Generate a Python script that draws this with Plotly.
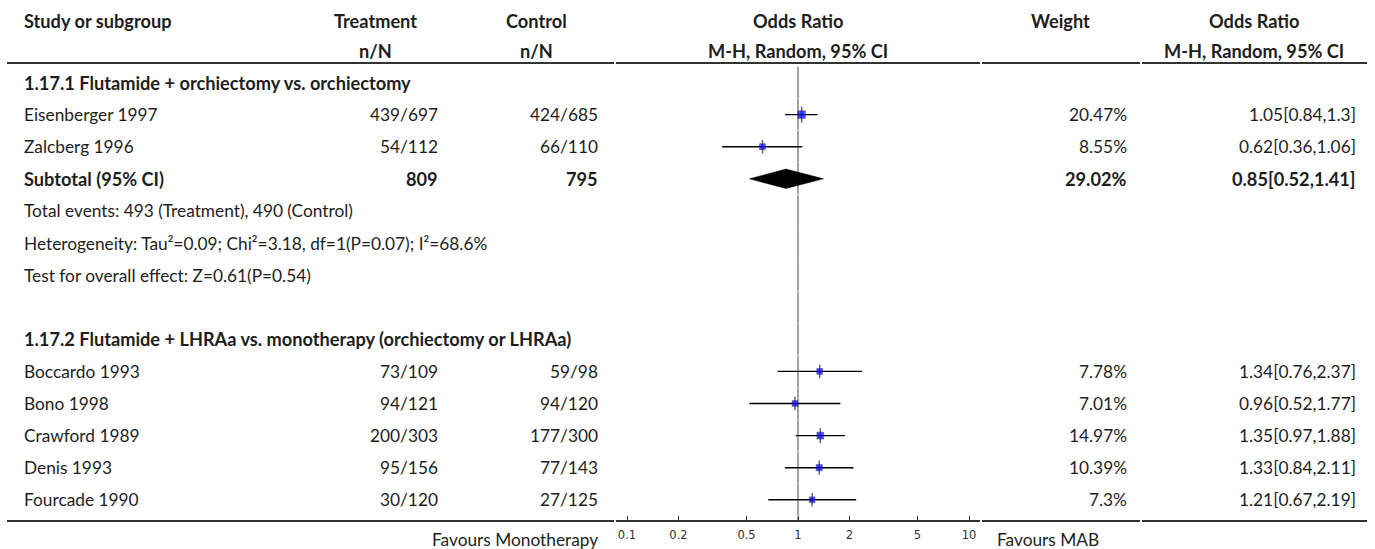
import plotly.graph_objects as go

# ---- data -------------------------------------------------------------
group1_title = "1.17.1 Flutamide + orchiectomy vs. orchiectomy"
group2_title = "1.17.2 Flutamide + LHRAa vs. monotherapy (orchiectomy or LHRAa)"

studies = ["Eisenberger 1997", "Zalcberg 1996", "Boccardo 1993", "Bono 1998",
           "Crawford 1989", "Denis 1993", "Fourcade 1990"]
study_group = [1, 1, 2, 2, 2, 2, 2]
treatment = ["439/697", "54/112", "73/109", "94/121", "200/303", "95/156", "30/120"]
control = ["424/685", "66/110", "59/98", "94/120", "177/300", "77/143", "27/125"]
weight = [20.47, 8.55, 7.78, 7.01, 14.97, 10.39, 7.3]
odds = [1.05, 0.62, 1.34, 0.96, 1.35, 1.33, 1.21]
ci_low = [0.84, 0.36, 0.76, 0.52, 0.97, 0.84, 0.67]
ci_high = [1.3, 1.06, 2.37, 1.77, 1.88, 2.11, 2.19]

subtotal_treatment = 809
subtotal_control = 795
subtotal_weight = 29.02
subtotal_or = 0.85
subtotal_low = 0.52
subtotal_high = 1.41
subtotal_notes = [
    "Total events: 493 (Treatment), 490 (Control)",
    "Heterogeneity: Tau\u00b2=0.09; Chi\u00b2=3.18, df=1(P=0.07); I\u00b2=68.6%",
    "Test for overall effect: Z=0.61(P=0.54)",
]

tick_values = [0.1, 0.2, 0.5, 1, 2, 5, 10]
tick_labels = ["0.1", "0.2", "0.5", "1", "2", "5", "10"]
favours_left = "Favours Monotherapy"
favours_right = "Favours MAB"

# ---- page geometry ----------------------------------------------------
W, H = 1375, 549
FONT = "Lato, Roboto, sans-serif"
FS = 17.3
FS_BOLD = 18.2
TXT = "#1e1e1e"
ROW0_PX = 82.5      # centre of first body row
ROW_PX = 32.1       # row pitch
AXIS_PX = 521.0     # baseline of the table / forest axis


def px_to_row(py):
    return (py - ROW0_PX) / ROW_PX


def xp(px):
    return px / W


def yp(py):
    return 1 - py / H


# ---- row bookkeeping ---------------------------------------------------
rows = {}
r = 0
rows["g1"] = r; r += 1
study_rows = []
for g in (1, 2):
    if g == 2:
        r += 1  # blank spacer
        rows["g2"] = r; r += 1
    for i, sg in enumerate(study_group):
        if sg == g:
            study_rows.append((i, r)); r += 1
    if g == 1:
        rows["sub"] = r; r += 1
        rows["notes"] = [r, r + 1, r + 2]; r += 3
study_row = dict(study_rows)
n_rows = r

fig = go.Figure()

# line of no effect, drawn cell by cell with hairline breaks between rows
gap = 0.3 / ROW_PX
vx, vy = [], []
for k in range(n_rows):
    vx += [1, 1, None]
    vy += [k - 0.5 + gap, k + 0.5 - gap, None]
vx += [1, 1]
vy += [n_rows - 0.5 + gap, px_to_row(AXIS_PX)]
fig.add_trace(go.Scatter(
    x=vx, y=vy, mode="lines", line=dict(color="#a3a3a3", width=2),
    hoverinfo="skip", showlegend=False))

# confidence intervals
cx, cy = [], []
for i in range(len(studies)):
    cx += [ci_low[i], ci_high[i], None]
    cy += [study_row[i], study_row[i], None]
fig.add_trace(go.Scatter(x=cx, y=cy, mode="lines",
                         line=dict(color="black", width=1.4),
                         hoverinfo="skip", showlegend=False))

sq_size = [4.8 + 0.13 * w for w in weight]
ys = [study_row[i] for i in range(len(studies))]

# vertical stroke through each point estimate
fig.add_trace(go.Scatter(
    x=odds, y=ys, mode="markers",
    marker=dict(symbol="line-ns", size=[s + 4 for s in sq_size],
                line=dict(color="#2a2a3a", width=1.5)),
    hoverinfo="skip", showlegend=False))

# weighted squares
fig.add_trace(go.Scatter(
    x=odds, y=ys, mode="markers",
    marker=dict(symbol="square", color="#0000ff", size=sq_size,
                line=dict(color="#00006a", width=0.6)),
    hoverinfo="skip", showlegend=False))

# pooled diamond
hh = 9.7 / ROW_PX
sr = rows["sub"]
fig.add_trace(go.Scatter(
    x=[subtotal_low, subtotal_or, subtotal_high, subtotal_or, subtotal_low],
    y=[sr, sr - hh, sr, sr + hh, sr], mode="lines", fill="toself",
    fillcolor="black", line=dict(color="black", width=0.5),
    hoverinfo="skip", showlegend=False))

# ---- text --------------------------------------------------------------
ann = []


def txt(x_px, y, s, anchor="left", bold=False, yref="y"):
    ann.append(dict(
        x=xp(x_px), xref="paper", y=y, yref=yref,
        text=f"<b>{s}</b>" if bold else s, showarrow=False,
        xanchor=anchor, yanchor="middle",
        font=dict(family=FONT, size=FS_BOLD if bold else FS, color=TXT)))


X_LEFT = 22
X_TREAT_R, X_TREAT_C = 440, 375
X_CTRL_R, X_CTRL_C = 600, 536
X_FOREST_C = 798
X_WEIGHT_R, X_WEIGHT_C = 1129, 1060
X_OR_R, X_OR_C = 1358, 1254

h1, h2 = yp(21), yp(51.5)
txt(X_LEFT, h1, "Study or subgroup", bold=True, yref="paper")
txt(X_TREAT_C, h1, "Treatment", "center", True, yref="paper")
txt(X_TREAT_C, h2, "n/N", "center", True, yref="paper")
txt(X_CTRL_C, h1, "Control", "center", True, yref="paper")
txt(X_CTRL_C, h2, "n/N", "center", True, yref="paper")
txt(X_FOREST_C, h1, "Odds Ratio", "center", True, yref="paper")
txt(X_FOREST_C, h2, "M-H, Random, 95% CI", "center", True, yref="paper")
txt(X_WEIGHT_C, h1, "Weight", "center", True, yref="paper")
txt(X_OR_C, h1, "Odds Ratio", "center", True, yref="paper")
txt(X_OR_C, h2, "M-H, Random, 95% CI", "center", True, yref="paper")

txt(X_LEFT, rows["g1"], group1_title, bold=True)
txt(X_LEFT, rows["g2"], group2_title, bold=True)

for i, name in enumerate(studies):
    rr = study_row[i]
    txt(X_LEFT, rr, name)
    txt(X_TREAT_R, rr, treatment[i], "right")
    txt(X_CTRL_R, rr, control[i], "right")
    txt(X_WEIGHT_R, rr, f"{weight[i]}%", "right")
    txt(X_OR_R, rr, f"{odds[i]}[{ci_low[i]},{ci_high[i]}]", "right")

txt(X_LEFT, sr, "Subtotal (95% CI)", bold=True)
txt(X_TREAT_R, sr, str(subtotal_treatment), "right", True)
txt(X_CTRL_R, sr, str(subtotal_control), "right", True)
txt(X_WEIGHT_R, sr, f"{subtotal_weight}%", "right", True)
txt(X_OR_R, sr, f"{subtotal_or}[{subtotal_low},{subtotal_high}]", "right", True)
for rr, note in zip(rows["notes"], subtotal_notes):
    txt(X_LEFT, rr, note)

txt(600, yp(539), favours_left, "right", yref="paper")
txt(995, yp(539), favours_right, "left", yref="paper")

# ---- rules -------------------------------------------------------------
shapes = []
segments = [(7, 614), (616, 980), (982, 1140), (1142, 1367)]
for a, b in segments:
    for py in (63, AXIS_PX):
        shapes.append(dict(type="line", xref="paper", yref="paper",
                           x0=xp(a), x1=xp(b), y0=yp(py), y1=yp(py),
                           line=dict(color="#333333", width=2)))

# ---- axes --------------------------------------------------------------
pad = 11 / 171.0
fig.update_layout(
    width=W, height=H, margin=dict(l=0, r=0, t=0, b=0),
    paper_bgcolor="white", plot_bgcolor="white",
    annotations=ann, shapes=shapes, showlegend=False, hovermode=False,
    xaxis=dict(type="log", domain=[xp(616), xp(980)],
               range=[-1 - pad, 1 + pad], tickvals=tick_values,
               ticktext=tick_labels, ticks="inside", ticklen=5,
               tickwidth=1, tickcolor="#333333", ticklabelstandoff=5,
               showline=False, showgrid=False, zeroline=False,
               tickfont=dict(family="DejaVu Sans", size=11.5, color="#333333")),
    yaxis=dict(domain=[yp(AXIS_PX), 1],
               range=[px_to_row(AXIS_PX), px_to_row(0)],
               visible=False, showgrid=False, zeroline=False),
)

fig.write_html("out.html", config={"displayModeBar": False})
